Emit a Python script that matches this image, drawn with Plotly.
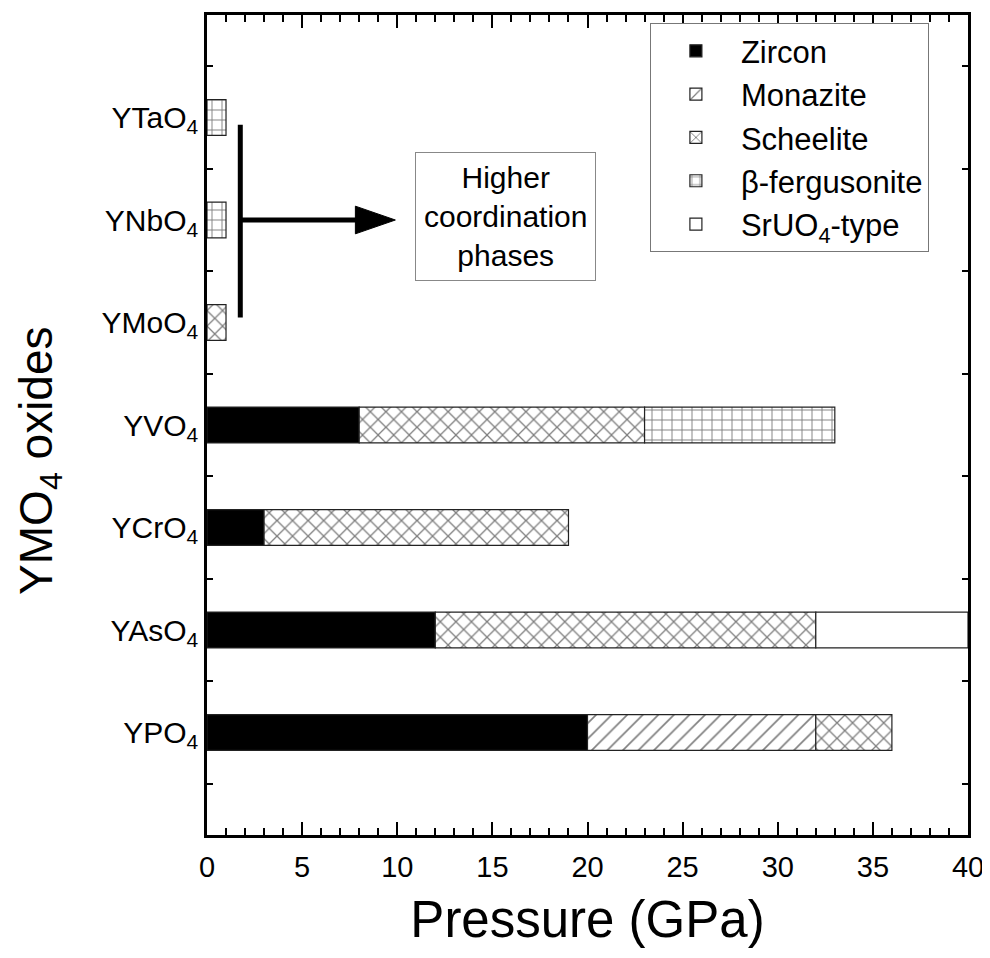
import plotly.graph_objects as go

compounds = ["YPO<sub>4</sub>", "YAsO<sub>4</sub>", "YCrO<sub>4</sub>", "YVO<sub>4</sub>",
             "YMoO<sub>4</sub>", "YNbO<sub>4</sub>", "YTaO<sub>4</sub>"]
phases = ["Zircon", "Monazite", "Scheelite", "β-fergusonite", "SrUO<sub>4</sub>-type"]

# (start, end) pressure range in GPa of each phase, per compound
zircon = [(0, 20), (0, 12), (0, 3), (0, 8), None, None, None]
monazite = [(20, 32), None, None, None, None, None, None]
scheelite = [(32, 36), (12, 32), (3, 19), (8, 23), (0, 1), None, None]
fergusonite = [None, None, None, (23, 33), None, (0, 1), (0, 1)]
sruo4 = [None, (32, 40), None, None, None, None, None]

ranges = [zircon, monazite, scheelite, fergusonite, sruo4]
styles = [
    dict(color="black"),
    dict(color="white", pattern=dict(shape="/", fgcolor="black", bgcolor="white", size=11, solidity=0.15)),
    dict(color="white", pattern=dict(shape="x", fgcolor="black", bgcolor="white", size=11, solidity=0.22)),
    dict(color="white", pattern=dict(shape="+", fgcolor="black", bgcolor="white", size=10, solidity=0.18)),
    dict(color="white"),
]

FONT = "Liberation Sans, Arial, sans-serif"
fig = go.Figure()
for name, rng, st in zip(phases, ranges, styles):
    ys, xs, bases = [], [], []
    for i, r in enumerate(rng):
        if r is None:
            continue
        ys.append(i)
        bases.append(r[0])
        xs.append(r[1] - r[0])
    fig.add_trace(go.Bar(
        y=ys, x=xs, base=bases, orientation="h", name=name, width=0.35,
        marker=dict(line=dict(color="#222", width=1.2), **st),
    ))

fig.update_layout(
    width=982, height=950,
    margin=dict(l=199, r=22, t=4, b=123),
    paper_bgcolor="white", plot_bgcolor="white",
    barmode="overlay",
    font=dict(family=FONT, color="black", size=30),
    showlegend=True,
    legend=dict(x=0.582, y=0.99, xanchor="left", yanchor="top",
                bordercolor="#777", borderwidth=1, bgcolor="white",
                itemwidth=80,
                font=dict(size=31), traceorder="normal"),
)
fig.update_xaxes(
    range=[0, 40], tickmode="array", tickvals=list(range(0, 41, 5)),
    ticks="inside", ticklen=13, tickwidth=2, tickcolor="black",
    minor=dict(ticks="inside", ticklen=7, tickwidth=2, dtick=1, tick0=0, tickcolor="black"),
    showline=True, linewidth=2.5, linecolor="black", mirror="ticks",
    showgrid=False, zeroline=False,
    tickfont=dict(size=29), ticklabelstandoff=4,
    title=dict(text="Pressure (GPa)", font=dict(size=51), standoff=20),
)
fig.update_yaxes(
    range=[-1, 7], tickmode="array", tickvals=list(range(len(compounds))), ticktext=compounds,
    ticks="inside", ticklen=0,
    minor=dict(ticks="inside", ticklen=6, tickwidth=1.5, tickmode="array",
               tickvals=[i - 0.5 for i in range(len(compounds) + 1)], tickcolor="black"),
    showline=True, linewidth=2.5, linecolor="black", mirror="ticks",
    showgrid=False, zeroline=False,
    tickfont=dict(size=30),
)

# y-axis title placed as rotated text
fig.add_annotation(xref="paper", yref="paper", x=-0.220, y=0.4557, xanchor="center", yanchor="middle",
                   text="YMO<sub>4</sub> oxides", textangle=-90, showarrow=False,
                   font=dict(size=46))

# "Higher coordination phases" callout
fig.add_annotation(x=15.7, y=5.03, xref="x", yref="y", text="Higher<br>coordination<br>phases",
                   showarrow=False, font=dict(size=30), bordercolor="#888", borderwidth=1,
                   borderpad=8, bgcolor="white")
fig.add_shape(type="line", xref="x", yref="y", x0=1.75, x1=1.75, y0=4.05, y1=5.93,
              line=dict(color="black", width=5))
fig.add_shape(type="line", xref="x", yref="y", x0=1.75, x1=8.0, y0=5, y1=5,
              line=dict(color="black", width=5))
fig.add_shape(type="path", xref="x", yref="y", path="M7.8,5.135 L9.9,5 L7.8,4.865 Z",
              fillcolor="black", line=dict(color="black", width=1))

fig.write_html("out.html")
